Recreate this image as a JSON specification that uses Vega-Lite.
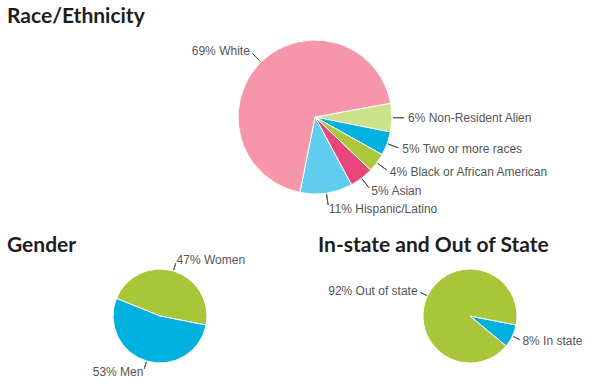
{
  "$schema": "https://vega.github.io/schema/vega-lite/v6.json",
  "background": "white",
  "padding": {"left": 7, "top": 6, "right": 0, "bottom": 0},
  "bounds": "flush",
  "spacing": 55,
  "resolve": {"scale": {"color": "independent", "theta": "independent"}},
  "config": {
    "view": {"stroke": null},
    "title": {"anchor": "start", "frame": "group", "dx": -20, "offset": 8, "font": "Lato", "fontSize": 21, "fontWeight": "bold", "color": "#1d1d1d"},
    "arc": {"stroke": "white", "strokeWidth": 1},
    "text": {"font": "Liberation Sans", "fontSize": 12, "color": "#555555"}
  },
  "vconcat": [
    {
      "title": {"text": "Race/Ethnicity"},
      "width": 576,
      "height": 164,
      "data": {"values": [
        {"group": "Non-Resident Alien", "pct": 6, "n": 1, "label": "6% Non-Resident Alien"},
        {"group": "Two or more races", "pct": 5, "n": 2, "label": "5% Two or more races"},
        {"group": "Black or African American", "pct": 4, "n": 3, "label": "4% Black or African American"},
        {"group": "Asian", "pct": 5, "n": 4, "label": "5% Asian"},
        {"group": "Hispanic/Latino", "pct": 11, "n": 5, "label": "11% Hispanic/Latino"},
        {"group": "White", "pct": 69, "n": 6, "label": "69% White"}
      ]},
      "encoding": {
        "theta": {"field": "pct", "type": "quantitative", "stack": true, "scale": {"domain": [0, 100], "range": [1.391, 7.674]}},
        "order": {"field": "n", "type": "quantitative"}
      },
      "layer": [
        {
          "mark": {"type": "arc", "outerRadius": 77},
          "encoding": {
            "color": {"field": "group", "type": "nominal", "legend": null,
              "scale": {"domain": ["Non-Resident Alien", "Two or more races", "Black or African American", "Asian", "Hispanic/Latino", "White"],
                        "range": ["#CDE08A", "#00B0E0", "#A9C83C", "#E8457A", "#60CDEF", "#F596AA"]}}
          }
        },
        {
          "transform": [
            {"stack": "pct", "groupby": [], "sort": [{"field": "n", "order": "ascending"}], "as": ["s0", "s1"]},
            {"fold": ["s0", "s1"], "as": ["edge", "pos"]},
            {"aggregate": [{"op": "mean", "field": "pos", "as": "mid"}], "groupby": ["group", "n"]}
          ],
          "mark": {"type": "arc", "innerRadius": 78, "outerRadius": 89, "fill": null, "stroke": "#555555", "strokeWidth": 1},
          "encoding": {
            "theta": {"field": "mid", "type": "quantitative", "stack": null},
            "theta2": {"field": "mid"}
          }
        },
        {
          "mark": {"type": "text", "radius": 93, "baseline": "middle", "align": {"expr": "datum.group == 'White' ? 'right' : 'left'"}},
          "encoding": {
            "detail": {"field": "group", "type": "nominal"},
            "text": {"field": "label", "type": "nominal"}
          }
        }
      ]
    },
    {
      "bounds": "flush",
      "spacing": 45,
      "resolve": {"scale": {"color": "independent", "theta": "independent"}},
      "hconcat": [
        {
          "title": {"text": "Gender", "offset": -2},
          "width": 266,
          "height": 124,
          "data": {"values": [
            {"group": "Women", "pct": 47, "n": 1, "label": "47% Women"},
            {"group": "Men", "pct": 53, "n": 2, "label": "53% Men"}
          ]},
          "encoding": {
            "theta": {"field": "pct", "type": "quantitative", "stack": true, "scale": {"domain": [0, 100], "range": [5.0964, 11.3796]}},
            "order": {"field": "n", "type": "quantitative"}
          },
          "layer": [
            {
              "mark": {"type": "arc", "outerRadius": 47},
              "encoding": {
                "color": {"field": "group", "type": "nominal", "legend": null,
                  "scale": {"domain": ["Women", "Men"], "range": ["#A9C63A", "#00B1E0"]}}
              }
            },
            {
              "transform": [
                {"stack": "pct", "groupby": [], "sort": [{"field": "n", "order": "ascending"}], "as": ["s0", "s1"]},
                {"fold": ["s0", "s1"], "as": ["edge", "pos"]},
                {"aggregate": [{"op": "mean", "field": "pos", "as": "mid"}], "groupby": ["group", "n"]}
              ],
              "mark": {"type": "arc", "innerRadius": 48, "outerRadius": 55, "fill": null, "stroke": "#555555", "strokeWidth": 1},
              "encoding": {
                "theta": {"field": "mid", "type": "quantitative", "stack": null},
                "theta2": {"field": "mid"}
              }
            },
            {
              "mark": {"type": "text", "radius": 58, "baseline": "middle", "align": {"expr": "datum.group == 'Men' ? 'right' : 'left'"}},
              "encoding": {
                "detail": {"field": "group", "type": "nominal"},
                "text": {"field": "label", "type": "nominal"}
              }
            }
          ]
        },
        {
          "title": {"text": "In-state and Out of State", "offset": -2},
          "width": 264,
          "height": 124,
          "data": {"values": [
            {"group": "In state", "pct": 8, "n": 1, "label": "8% In state"},
            {"group": "Out of state", "pct": 92, "n": 2, "label": "92% Out of state"}
          ]},
          "encoding": {
            "theta": {"field": "pct", "type": "quantitative", "stack": true, "scale": {"domain": [0, 100], "range": [1.7628, 8.046]}},
            "order": {"field": "n", "type": "quantitative"}
          },
          "layer": [
            {
              "mark": {"type": "arc", "outerRadius": 47},
              "encoding": {
                "color": {"field": "group", "type": "nominal", "legend": null,
                  "scale": {"domain": ["In state", "Out of state"], "range": ["#00B1E0", "#A9C63A"]}}
              }
            },
            {
              "transform": [
                {"stack": "pct", "groupby": [], "sort": [{"field": "n", "order": "ascending"}], "as": ["s0", "s1"]},
                {"fold": ["s0", "s1"], "as": ["edge", "pos"]},
                {"aggregate": [{"op": "mean", "field": "pos", "as": "mid"}], "groupby": ["group", "n"]}
              ],
              "mark": {"type": "arc", "innerRadius": 48, "outerRadius": 55, "fill": null, "stroke": "#555555", "strokeWidth": 1},
              "encoding": {
                "theta": {"field": "mid", "type": "quantitative", "stack": null},
                "theta2": {"field": "mid"}
              }
            },
            {
              "mark": {"type": "text", "radius": 58, "baseline": "middle", "align": {"expr": "datum.group == 'Out of state' ? 'right' : 'left'"}},
              "encoding": {
                "detail": {"field": "group", "type": "nominal"},
                "text": {"field": "label", "type": "nominal"}
              }
            }
          ]
        }
      ]
    }
  ]
}
